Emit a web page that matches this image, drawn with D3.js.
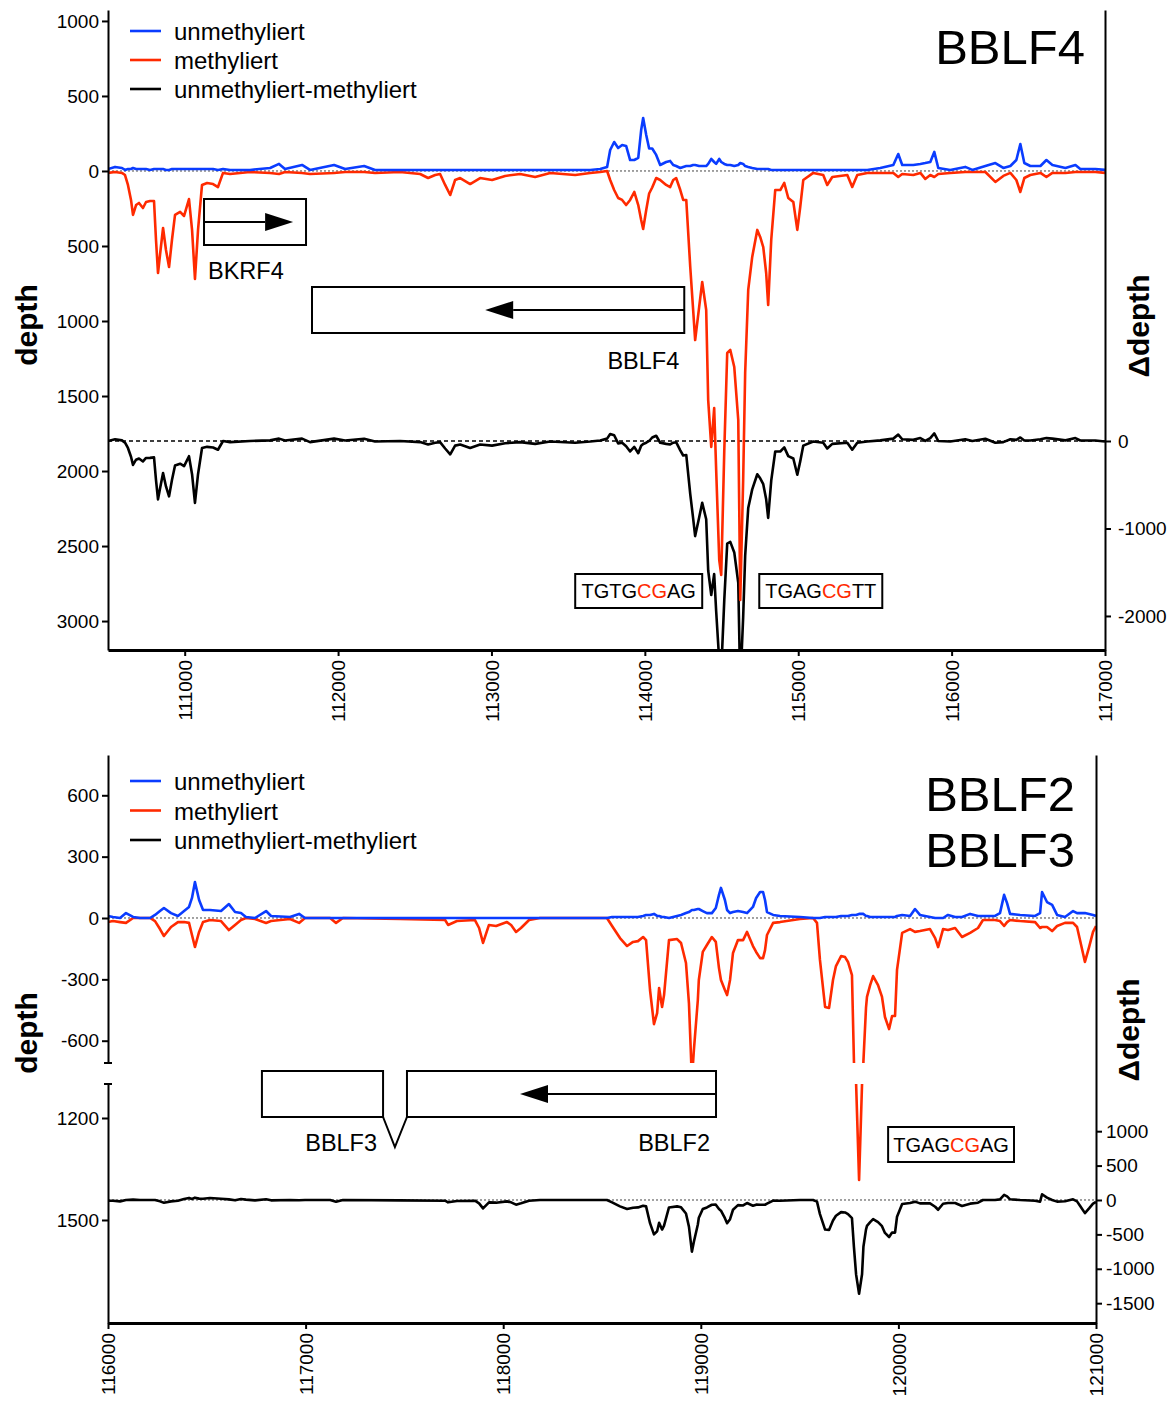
<!DOCTYPE html>
<html><head><meta charset="utf-8">
<script src="https://cdn.jsdelivr.net/npm/d3@7"></script>
<style>
body{margin:0;background:#fff;}
svg{display:block;font-family:"Liberation Sans",Arial,Helvetica,sans-serif;}
</style></head><body>
<svg id="c" width="1171" height="1405"></svg>
<script>
// ---------------- DATA: top panel (BBLF4 region) ----------------
const posTop = [110500,110546,110591,110611,110630,110650,110663,110683,110702,110728,110748,110774,110800,110813,110826,110839,110859,110878,110898,110917,110937,110970,110996,111028,111048,111067,111087,111113,111146,111185,111217,111250,111296,111426,111557,111615,111654,111765,111817,111974,112046,112170,112241,112404,112535,112587,112633,112665,112698,112731,112763,112796,112861,112926,113004,113089,113187,113285,113383,113546,113644,113709,113754,113774,113800,113826,113852,113878,113904,113931,113957,113976,113989,114009,114028,114048,114074,114100,114139,114165,114185,114204,114231,114250,114270,114296,114315,114328,114354,114374,114400,114413,114433,114452,114465,114485,114498,114518,114537,114557,114583,114609,114622,114641,114654,114674,114700,114733,114752,114772,114791,114804,114824,114850,114883,114909,114935,114968,114994,115013,115033,115098,115163,115189,115222,115320,115352,115385,115450,115535,115620,115652,115678,115750,115796,115828,115861,115887,115913,115991,116089,116135,116220,116285,116337,116383,116422,116448,116474,116513,116579,116618,116657,116742,116807,116839,116937,117000];
const unmethTop = [13,27,20,7,13,13,20,13,13,13,13,7,13,13,13,13,13,7,7,13,13,13,13,13,13,13,13,13,13,13,7,13,7,7,20,47,13,40,7,40,13,33,7,7,7,7,7,7,7,7,7,7,7,7,7,7,7,7,7,7,7,13,27,140,193,153,173,167,73,73,87,273,353,240,150,150,107,40,60,67,40,33,20,27,33,33,40,40,33,33,33,47,80,60,47,80,60,47,40,40,33,40,53,47,33,27,20,13,13,13,13,13,7,7,7,7,7,7,7,7,7,7,7,7,7,7,7,7,7,20,40,113,40,40,47,53,60,127,20,7,27,7,33,53,20,33,73,180,53,33,33,73,40,20,40,13,13,7];
const methTop = [13,7,13,27,93,193,293,227,213,247,207,200,200,460,680,560,380,527,640,460,293,273,300,187,393,720,393,93,80,87,107,13,20,7,13,20,7,13,20,13,7,7,13,7,20,47,27,20,93,160,60,47,87,47,60,33,20,40,13,27,13,7,0,60,127,180,193,227,193,140,227,327,387,260,150,110,47,60,93,107,60,47,127,193,193,640,927,1127,907,740,927,1527,1840,1580,1993,2593,2693,1860,1213,1193,1307,1660,2860,2060,1347,793,573,393,440,507,680,893,460,127,127,80,180,207,393,240,60,13,27,93,40,27,107,27,13,13,13,40,20,27,13,53,27,40,20,13,7,7,7,73,33,13,60,140,47,27,13,40,13,13,7,7,7,13];
const xTicksTop = [111000,112000,113000,114000,115000,116000,117000];
const yTicksTopLeft = [1000,500,0,-500,-1000,-1500,-2000,-2500,-3000];
const yTicksTopRight = [0,-1000,-2000];
const genesTop = [
  {name:"BKRF4", start:111126, end:111791, tip:111707, strand:"+"},
  {name:"BBLF4", start:111830, end:114257, tip:112959, strand:"-"}
];
const seqTop = [
  {pre:"TGTG", cg:"CG", post:"AG", start:113546, end:114374},
  {pre:"TGAG", cg:"CG", post:"TT", start:114746, end:115548}
];
const titleTop = ["BBLF4"];

// ---------------- DATA: bottom panel (BBLF2/BBLF3 region) ----------------
const posBottom = [116000,116025,116061,116091,116127,116162,116213,116238,116263,116283,116319,116354,116385,116410,116425,116440,116461,116481,116516,116572,116612,116643,116673,116698,116744,116800,116825,116921,116967,116997,117124,117154,117189,117478,117706,117721,117766,117857,117878,117898,117928,117964,118019,118040,118065,118090,118131,118186,118490,118525,118551,118591,118627,118657,118682,118708,118723,118743,118763,118779,118789,118804,118814,118839,118880,118900,118925,118940,118955,118965,118985,118990,119010,119031,119056,119076,119092,119102,119122,119133,119148,119163,119188,119214,119234,119264,119280,119300,119315,119325,119335,119366,119401,119502,119568,119588,119603,119629,119649,119669,119684,119710,119730,119745,119765,119775,119786,119801,119816,119823,119836,119841,119857,119872,119897,119917,119932,119953,119968,119983,119993,120019,120059,120084,120109,120160,120186,120201,120226,120251,120287,120322,120363,120403,120428,120489,120514,120535,120550,120565,120616,120692,120717,120727,120752,120778,120803,120843,120884,120904,120919,120944,120965,120985,121000];
const unmethBottom = [10,5,0,24,5,0,0,15,34,49,24,10,34,54,98,176,88,39,39,34,68,29,24,5,0,34,10,5,20,0,0,0,0,0,0,0,0,0,0,0,0,0,0,0,0,0,0,0,0,0,5,5,5,5,5,10,15,15,20,10,10,5,5,0,10,15,24,29,39,39,44,44,34,24,24,49,113,147,88,39,24,29,34,29,24,54,98,127,127,88,29,15,10,5,0,0,0,5,5,5,5,10,10,10,15,15,15,20,20,20,10,10,5,5,5,5,5,5,5,5,10,15,10,44,15,5,0,0,0,15,5,5,20,10,10,10,24,113,73,20,15,10,24,127,78,64,15,5,34,24,24,24,20,15,10];
const methBottom = [20,15,20,24,0,0,0,15,54,88,44,20,20,24,83,142,68,20,10,15,59,34,10,0,5,24,15,5,24,0,0,24,0,5,10,34,15,10,49,122,34,39,20,34,68,49,10,0,0,0,39,98,137,117,113,93,108,352,519,465,342,435,377,108,103,122,220,416,790,646,401,303,166,132,93,117,245,303,352,377,303,171,108,108,68,137,166,196,196,157,83,24,20,5,0,24,205,435,440,303,235,186,191,215,279,700,1100,1382,1100,700,440,386,328,284,328,386,484,543,479,479,254,73,54,68,64,54,98,142,54,59,49,93,73,49,10,10,15,39,20,10,15,20,49,44,44,64,39,24,24,44,108,215,142,68,39];
const xTicksBottom = [116000,117000,118000,119000,120000,121000];
const yTicksBottomUpper = [600,300,0,-300,-600];
const yTicksBottomLower = [-1200,-1500];
const yTicksBottomRight = [1000,500,0,-500,-1000,-1500];
const genesBottom = [
  {name:"BBLF3", start:116779, end:117392},
  {name:"BBLF2", start:117513, end:119077, tip:118085, strand:"-"}
];
const intronBottom = [{start:117392, mid:117452, end:117513}];
const seqBottom = [{pre:"TGAG", cg:"CG", post:"AG", start:119948, end:120585}];
const titleBottom = ["BBLF2","BBLF3"];

const legendLabels = ["unmethyliert","methyliert","unmethyliert-methyliert"];

// ---------------- DRAWING ----------------
const BLUE = "#0a3cff", RED = "#ff2a00", BLACK = "#000";
const LW = 2.6;
const svg = d3.select("#c");
const TICKFS = "19px";
const fmt = d => String(d);          // plain hyphen minus, as in the original
const fmtAbs = d => String(Math.abs(d));

function rowsOf(pos, un, me){ return pos.map((p,i)=>({p, u:un[i], m:me[i], d:un[i]-me[i]})); }
const rowsTop = rowsOf(posTop, unmethTop, methTop);
const rowsBot = rowsOf(posBottom, unmethBottom, methBottom);

function styleAxis(g, domW){
  g.selectAll(".domain").attr("stroke","#000").attr("stroke-width", domW);
  g.selectAll(".tick line").attr("stroke","#000").attr("stroke-width", 2);
  g.selectAll(".tick text").attr("fill","#000").style("font-size", TICKFS)
    .style("font-family",'"Liberation Sans",Arial,sans-serif');
}
function rotateX(g){
  g.selectAll(".tick text").attr("transform","rotate(-90)").attr("x",-10).attr("y",0)
    .attr("dy","0.35em").attr("text-anchor","end");
}
function clip(id, x, y, w, h){
  svg.append("clipPath").attr("id",id).append("rect").attr("x",x).attr("y",y).attr("width",w).attr("height",h);
}
function legend(x0, yLine0, step){
  const cols=[BLUE,RED,BLACK];
  legendLabels.forEach((t,i)=>{
    const y=yLine0+i*step;
    svg.append("line").attr("x1",x0).attr("x2",x0+31).attr("y1",y).attr("y2",y)
      .attr("stroke",cols[i]).attr("stroke-width",2.6);
    svg.append("text").attr("x",x0+44).attr("y",y+9).text(t).style("font-size","24px").attr("fill","#000");
  });
}
function seqBox(s, x, yTop, h){
  const x1=x(s.start), x2=x(s.end);
  svg.append("rect").attr("x",x1).attr("y",yTop).attr("width",x2-x1).attr("height",h)
    .attr("fill","#fff").attr("stroke","#000").attr("stroke-width",2);
  const t=svg.append("text").attr("x",(x1+x2)/2).attr("y",yTop+h/2+7).attr("text-anchor","middle").style("font-size","20px");
  t.append("tspan").text(s.pre).attr("fill","#000");
  t.append("tspan").text(s.cg).attr("fill",RED);
  t.append("tspan").text(s.post).attr("fill","#000");
}
function arrow(xStart, xTip, y, dir){
  const hl=28, hh=9;
  const base = xTip - dir*hl;
  svg.append("line").attr("x1",xStart).attr("x2",base).attr("y1",y).attr("y2",y).attr("stroke","#000").attr("stroke-width",2);
  svg.append("path").attr("d",`M${base},${y-hh}L${xTip},${y}L${base},${y+hh}Z`).attr("fill","#000");
}
function linePath(g, data, col, xf, yf){
  g.append("path").datum(data).attr("fill","none").attr("stroke",col).attr("stroke-width",LW)
    .attr("stroke-linejoin","round").attr("d", d3.line().x(xf).y(yf));
}

// ===== TOP PANEL =====
(function(){
  const L=108,R=1105,T=10,B=650;
  const x = d3.scaleLinear([110500,117000],[L,R]);
  const y = d3.scaleLinear([-3193,1073],[B,T]);
  const yr = d3.scaleLinear([-2389,4926],[B,T]);
  clip("clipTop",L,T,R-L,B-T);

  svg.append("line").attr("x1",L).attr("x2",R).attr("y1",y(0)).attr("y2",y(0))
    .attr("stroke","#444").attr("stroke-width",1).attr("stroke-dasharray","2,2");
  svg.append("line").attr("x1",L).attr("x2",R).attr("y1",yr(0)).attr("y2",yr(0))
    .attr("stroke","#000").attr("stroke-width",1.6).attr("stroke-dasharray","4,3");

  const gL = svg.append("g").attr("clip-path","url(#clipTop)");
  linePath(gL, rowsTop, BLACK, d=>x(d.p), d=>yr(d.d));
  linePath(gL, rowsTop, RED, d=>x(d.p), d=>y(-d.m));
  linePath(gL, rowsTop, BLUE, d=>x(d.p), d=>y(d.u));

  const ax = svg.append("g").attr("transform",`translate(0,${B})`)
    .call(d3.axisBottom(x).tickValues(xTicksTop).tickFormat(fmt).tickSize(6).tickSizeOuter(0));
  styleAxis(ax,3); rotateX(ax);
  const ay = svg.append("g").attr("transform",`translate(${L},0)`)
    .call(d3.axisLeft(y).tickValues(yTicksTopLeft).tickFormat(fmtAbs).tickSize(6).tickPadding(3).tickSizeOuter(0));
  styleAxis(ay,2);
  const ar = svg.append("g").attr("transform",`translate(${R},0)`)
    .call(d3.axisRight(yr).tickValues(yTicksTopRight).tickFormat(fmt).tickSize(6).tickPadding(7).tickSizeOuter(0));
  styleAxis(ar,2);

  const gb=[[199,245],[287,333]];
  genesTop.forEach((g,i)=>{
    const x1=x(g.start), x2=x(g.end);
    svg.append("rect").attr("x",x1).attr("y",gb[i][0]).attr("width",x2-x1).attr("height",gb[i][1]-gb[i][0])
      .attr("fill","none").attr("stroke","#000").attr("stroke-width",2);
    const ym=(gb[i][0]+gb[i][1])/2;
    if(g.strand==="+") arrow(x1, x(g.tip), ym, 1); else arrow(x2, x(g.tip), ym, -1);
  });
  svg.append("text").attr("x",x(genesTop[0].start)+4).attr("y",279).text(genesTop[0].name).style("font-size","23.5px");
  svg.append("text").attr("x",x(genesTop[1].end)-5).attr("y",369).attr("text-anchor","end").text(genesTop[1].name).style("font-size","23.5px");
  seqTop.forEach(s=>seqBox(s,x,574,34));

  legend(130,31,29);
  svg.append("text").attr("x",1085).attr("y",64).attr("text-anchor","end").text(titleTop[0]).style("font-size","49px");
  svg.append("text").attr("transform","translate(37,325) rotate(-90)").attr("text-anchor","middle")
    .text("depth").style("font-size","30px").style("font-weight","bold");
  svg.append("text").attr("transform","translate(1149,326) rotate(-90)").attr("text-anchor","middle")
    .text("Δdepth").style("font-size","30px").style("font-weight","bold");
})();

// ===== BOTTOM PANEL =====
(function(){
  const L=108,R=1096,T=755,B1=1063,B2=1084,B=1323;
  const x = d3.scaleLinear([116000,121000],[L,R]);
  const yU = d3.scaleLinear([-709,797],[B1,T]);
  const yLo = d3.scaleLinear([-1803,-1100],[B,B2]);
  const yr = d3.scaleLinear([-1788,6468],[B,T]);
  clip("clipBU",L,T,R-L,B1-T);
  clip("clipBL",L,B2,R-L,B-B2);
  clip("clipB",L,T,R-L,B-T);

  svg.append("line").attr("x1",L).attr("x2",R).attr("y1",yU(0)).attr("y2",yU(0))
    .attr("stroke","#444").attr("stroke-width",1).attr("stroke-dasharray","2,2");
  svg.append("line").attr("x1",L).attr("x2",R).attr("y1",yr(0)).attr("y2",yr(0))
    .attr("stroke","#444").attr("stroke-width",1).attr("stroke-dasharray","2,2");

  const gB = svg.append("g").attr("clip-path","url(#clipB)");
  linePath(gB, rowsBot, BLACK, d=>x(d.p), d=>yr(d.d));
  const gU = svg.append("g").attr("clip-path","url(#clipBU)");
  linePath(gU, rowsBot, RED, d=>x(d.p), d=>yU(-d.m));
  linePath(gU, rowsBot, BLUE, d=>x(d.p), d=>yU(d.u));
  const gLo = svg.append("g").attr("clip-path","url(#clipBL)");
  linePath(gLo, rowsBot, RED, d=>x(d.p), d=>yLo(-d.m));

  const ax = svg.append("g").attr("transform",`translate(0,${B})`)
    .call(d3.axisBottom(x).tickValues(xTicksBottom).tickFormat(fmt).tickSize(6).tickSizeOuter(0));
  styleAxis(ax,3); rotateX(ax);
  const ayU = svg.append("g").attr("transform",`translate(${L},0)`)
    .call(d3.axisLeft(yU).tickValues(yTicksBottomUpper).tickFormat(fmt).tickSize(6).tickPadding(3).tickSizeOuter(0));
  styleAxis(ayU,2);
  const ayL = svg.append("g").attr("transform",`translate(${L},0)`)
    .call(d3.axisLeft(yLo).tickValues(yTicksBottomLower).tickFormat(fmtAbs).tickSize(6).tickPadding(3).tickSizeOuter(0));
  styleAxis(ayL,2);
  [B1,B2].forEach(yy=>svg.append("line").attr("x1",L-4).attr("x2",L+4).attr("y1",yy).attr("y2",yy).attr("stroke","#000").attr("stroke-width",2));
  const ar = svg.append("g").attr("transform",`translate(${R},0)`)
    .call(d3.axisRight(yr).tickValues(yTicksBottomRight).tickFormat(fmt).tickSize(6).tickPadding(4).tickSizeOuter(0));
  styleAxis(ar,2);

  const gy0=1071, gy1=1117;
  genesBottom.forEach(g=>{
    const x1=x(g.start), x2=x(g.end);
    svg.append("rect").attr("x",x1).attr("y",gy0).attr("width",x2-x1).attr("height",gy1-gy0)
      .attr("fill","none").attr("stroke","#000").attr("stroke-width",2);
  });
  intronBottom.forEach(n=>{
    svg.append("path").attr("d",`M${x(n.start)},${gy1}L${x(n.mid)},${gy1+30}L${x(n.end)},${gy1}`)
      .attr("fill","none").attr("stroke","#000").attr("stroke-width",2);
  });
  const g2=genesBottom[1];
  arrow(x(g2.end), x(g2.tip), (gy0+gy1)/2, -1);
  genesBottom.forEach(g=>{
    svg.append("text").attr("x",x(g.end)-6).attr("y",1151).attr("text-anchor","end").text(g.name).style("font-size","23.5px");
  });
  seqBottom.forEach(s=>seqBox(s,x,1127,35));

  legend(130,781,29.5);
  titleBottom.forEach((t,i)=>svg.append("text").attr("x",1075).attr("y",811+i*56).attr("text-anchor","end").text(t).style("font-size","49px"));
  svg.append("text").attr("transform","translate(37,1033) rotate(-90)").attr("text-anchor","middle")
    .text("depth").style("font-size","30px").style("font-weight","bold");
  svg.append("text").attr("transform","translate(1139,1030) rotate(-90)").attr("text-anchor","middle")
    .text("Δdepth").style("font-size","30px").style("font-weight","bold");
})();
</script>
</body></html>
